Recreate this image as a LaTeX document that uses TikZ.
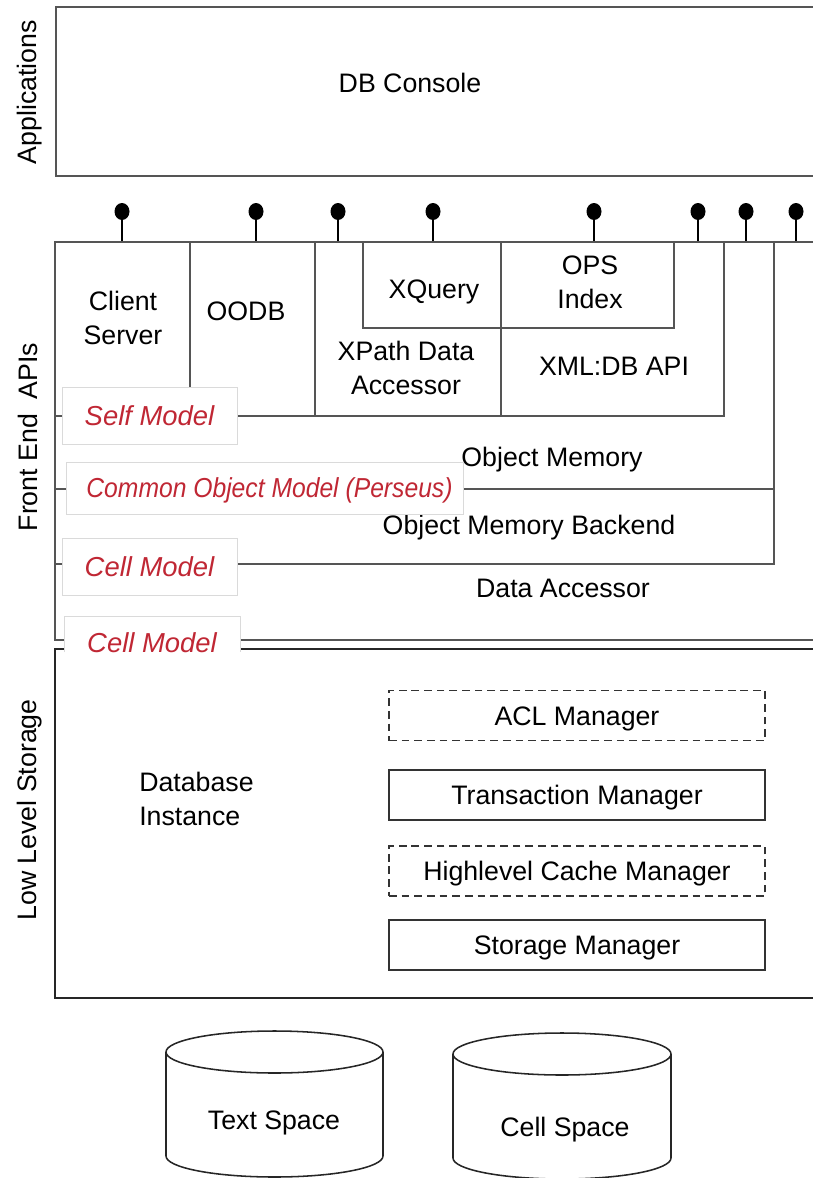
\documentclass[tikz,border=0pt]{standalone}
\usepackage{fontspec}
\setmainfont{Liberation Sans}
\usepackage{tikz}
\usetikzlibrary{positioning,calc}
\definecolor{ModelRed}{RGB}{192,39,52}
\definecolor{FrameGray}{RGB}{85,85,85}
\definecolor{EdgeGray}{RGB}{218,218,218}
\tikzset{
  fline/.style={draw=FrameGray,line width=1.1pt},
  lbl/.style={font=\fontsize{19}{24}\selectfont,align=center,inner sep=0pt,
              text height=13.6pt,text depth=0pt},
  lbltwo/.style={font=\fontsize{19}{24}\selectfont,align=center,inner sep=0pt},
  sidelbl/.style={font=\fontsize{19}{24}\selectfont,rotate=90,inner sep=0pt,
                  text height=13.6pt,text depth=0pt},
  mbox/.style={draw=black!80,line width=1.1pt,minimum width=9.4cm,minimum height=1.25cm,
               inner sep=0pt,font=\fontsize{19}{24}\selectfont,text height=13.6pt,text depth=0pt},
  mboxd/.style={mbox,dash pattern=on 5.5pt off 3.5pt},
  model/.style={draw=EdgeGray,fill=white,line width=0.6pt,inner sep=0pt,
                text=ModelRed,font=\fontsize{19.5}{24}\selectfont\itshape,
                text height=14pt,text depth=0pt},
  lolli/.style={black,line width=1.5pt},
  drum/.style={draw=black!85,line width=1.1pt},
}

\begin{document}
\begin{tikzpicture}[x=0.025cm,y=-0.025cm]
  \useasboundingbox (0,0) rectangle (813,1178);
  \clip (0,0) rectangle (813,1178);

  % application layer
  \draw[fline] (830,7) -- (56,7) -- (56,176) -- (830,176);
  \node[sidelbl] (lblapp) at (27,92) {Applications};
  \node[lbl] (dbconsole) at (410,83) {DB Console};

  % interfaces
  \foreach \px in {122,256,338,433,594,698,746,796} {
    \draw[lolli] (\px,242) -- (\px,214);
    \fill[black] (\px,211.5) ellipse [x radius=7.5,y radius=8.5];
  }

  % front end box
  \draw[fline] (830,242) -- (55,242) -- (55,640) -- (830,640);
  \draw[fline] (190,242) -- (190,416);
  \draw[fline] (315,242) -- (315,416);
  \draw[fline] (501,242) -- (501,416);
  \draw[fline] (724,242) -- (724,416) -- (55,416);
  \draw[fline] (363,242) -- (363,328) -- (674,328) -- (674,242);
  \draw[fline] (774,242) -- (774,564) -- (55,564);
  \draw[fline] (55,489) -- (774,489);
  \node[sidelbl] (lblfront) at (28,437) {Front End\ \ APIs};

  \node[lbltwo] (client) at (123,318) {Client\\Server};
  \node[lbl] (oodb) at (246,311) {OODB};
  \node[lbl] (xquery) at (434,289) {XQuery};
  \node[lbltwo] (opsindex) at (590,282) {OPS\\Index};
  \node[lbltwo] (xpath) at (406,368) {XPath Data\\Accessor};
  \node[lbl] (xmldb) at (614,366) {XML:DB API};
  \node[lbl] (objmem) at (552,457) {Object Memory};
  \node[lbl] (objback) at (529,525) {Object Memory Backend};
  \node[lbl] (dataacc) at (563,588) {Data Accessor};

  % low level storage
  \draw[fline,draw=black!85] (830,649) -- (55,649) -- (55,998) -- (830,998);
  \node[sidelbl] (lbllow) at (27,810) {Low Level Storage};
  \node[lbltwo,anchor=west,align=left] (dbinst) at (139,799) {Database\\Instance};

  \node[mboxd] (acl) at (577,715.5) {ACL Manager};
  \node[mbox] (trans) at (577,795) {Transaction Manager};
  \node[mboxd] (hlcache) at (577,871) {Highlevel Cache Manager};
  \node[mbox] (storage) at (577,945) {Storage Manager};

  % models
  \node[model,minimum width=4.375cm,minimum height=1.425cm] (selfmodel) at (149.5,415.5) {Self Model};
  \node[model,minimum width=9.925cm,minimum height=1.3cm] (commodel) at (264.5,488)
       {\hspace*{0.25cm}\scalebox{0.9}[1]{Common Object Model (Perseus)}};
  \node[model,minimum width=4.375cm,minimum height=1.425cm] (cellmodela) at (149.5,566.5) {Cell Model};
  \fill[white] (64,616) rectangle (240,652);
  \draw[EdgeGray,line width=0.6pt] (64,652) -- (64,616) -- (240,616) -- (240,652);
  \node[model,draw=none,fill=none] (cellmodelb) at (152,643) {Cell Model};

  % storage spaces
  \draw[drum] (166,1052) -- (166,1156) arc[start angle=180,end angle=0,x radius=108.5,y radius=21] -- (383,1052);
  \draw[drum] (274.5,1052) ellipse [x radius=108.5,y radius=21];
  \node[lbl] (textspace) at (274,1120) {Text Space};

  \draw[drum] (453,1054) -- (453,1158) arc[start angle=180,end angle=0,x radius=109,y radius=21] -- (671,1054);
  \draw[drum] (562,1054) ellipse [x radius=109,y radius=21];
  \node[lbl] (cellspace) at (565,1127) {Cell Space};
\end{tikzpicture}
\end{document}
